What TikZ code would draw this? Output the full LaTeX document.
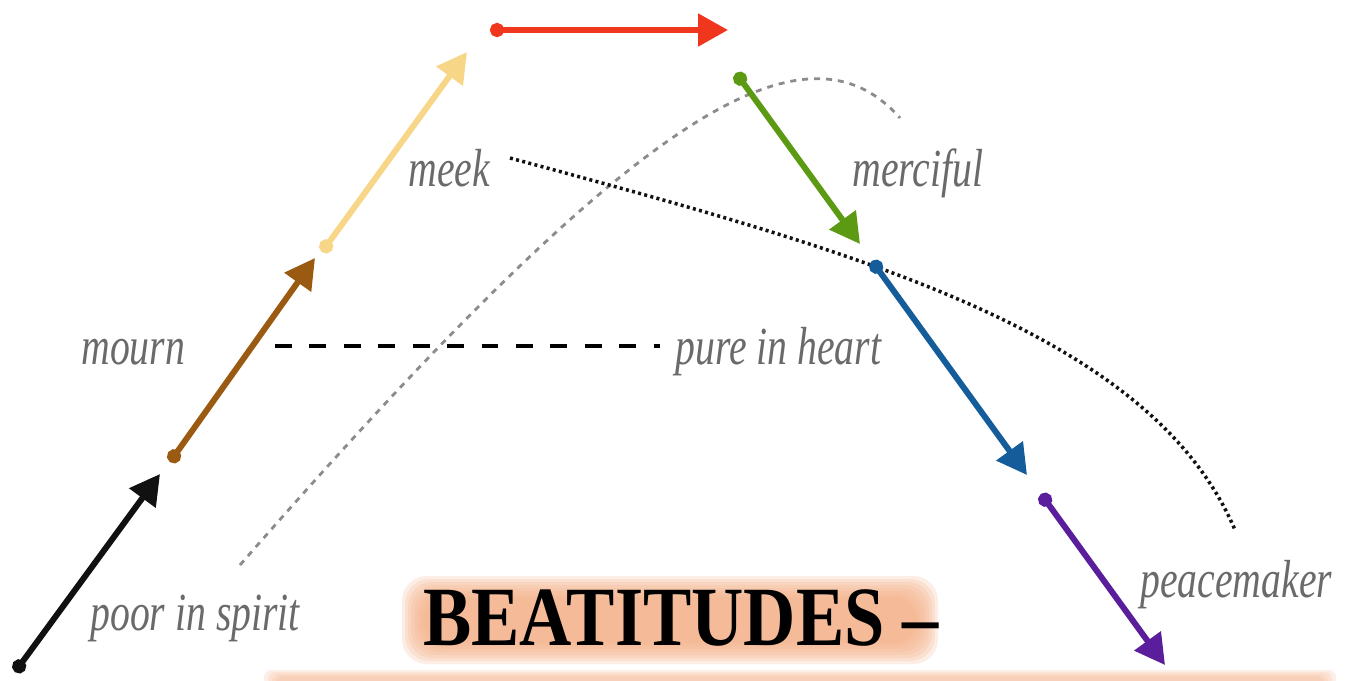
\documentclass[tikz,border=0pt]{standalone}
\usepackage{fontspec}
\newfontfamily\titlefont{Liberation Serif}
\newfontfamily\wordfont{Liberation Serif}
\usetikzlibrary{arrows.meta}

\definecolor{poorblack}{HTML}{111111}
\definecolor{mournbrown}{HTML}{9A5A12}
\definecolor{meekyellow}{HTML}{F8D688}
\definecolor{hungerred}{HTML}{F0361C}
\definecolor{mercygreen}{HTML}{5C9A14}
\definecolor{pureblue}{HTML}{145C9A}
\definecolor{peacepurple}{HTML}{5A1E9C}
\definecolor{labelgray}{HTML}{6A6A6A}
\definecolor{curvegray}{HTML}{8C8C8C}
\definecolor{glow}{HTML}{F3B088}

\begin{document}
\begin{tikzpicture}[
  x=0.02cm, y=-0.02cm,
  stage/.style   = {line width=3.4pt, line cap=round,
                    {Circle[length=8pt]}-{Triangle[length=17pt, width=18pt]}},
  word/.style    = {font=\wordfont\itshape\fontsize{22.6}{26}\selectfont, text=labelgray,
                    inner sep=0pt, anchor=base west, yscale=1.35},
  pureline/.style = {line width=1.8pt, dash pattern=on 9.6pt off 10pt},
  grayline/.style = {line width=1.6pt, curvegray, dash pattern=on 3.4pt off 3.4pt},
  dotline/.style  = {line width=2pt, poorblack, dash pattern=on 1.7pt off 1.9pt}
]
\useasboundingbox (0,0) rectangle (1345,680);

% ── Step points (start dot / arrow tip) ──────────────────────────────────────
\coordinate (p0) at (15,672);    \coordinate (p1) at (160,474);
\coordinate (m0) at (170,462);   \coordinate (m1) at (315,258);
\coordinate (k0) at (322,252);   \coordinate (k1) at (467,52);
\coordinate (h0) at (490,30);    \coordinate (h1) at (728,30);
\coordinate (c0) at (736,73);    \coordinate (c1) at (860,244);
\coordinate (u0) at (872,261);   \coordinate (u1) at (1027,475);
\coordinate (z0) at (1041,494);  \coordinate (z1) at (1165,665);

% ── Labels ───────────────────────────────────────────────────────────────────
\node[word] (mourn)    at (81,364)   {mourn};
\node[word] (meek)     at (408,186)  {meek};
\node[word] (merciful) at (852,186)  {merciful};
\node[word] (pure)     at (675,364)  {pure in heart};
\node[word] (poor)     at (90,630)   {poor in spirit};
\node[word] (peace)    at (1140,597) {peacemaker};

% ── Title with glow ──────────────────────────────────────────────────────────
\foreach \i in {0,...,7}
  \fill[glow, opacity=0.22, rounded corners=14pt]
    (402+3*\i,576+3*\i) rectangle (938-3*\i,664-3*\i);
\foreach \i in {0,...,3}
  \fill[glow, opacity=0.2, rounded corners=4pt]
    (264+4*\i,670+2*\i) rectangle (1336-4*\i,686);
\node[anchor=base west, inner sep=0pt, xscale=1.03, yscale=1.2,
      font=\titlefont\bfseries\fontsize{40}{40}\selectfont] (title)
  at (423,645) {BEATITUDES –};

% ── Background curves ────────────────────────────────────────────────────────
\coordinate (g0) at (240,565);  \coordinate (g1) at (900,118);
\draw[grayline] (g0) .. controls (620,130) and (800,5) .. (g1);

\coordinate (d0) at (510,158);  \coordinate (d1) at (1235,530);
\draw[dotline] (d0) .. controls (850,250) and (1150,330) .. (d1);

\coordinate (e0) at (275,346);  \coordinate (e1) at (660,346);
\draw[pureline] (e0) -- (e1);

% ── Steps up and down ────────────────────────────────────────────────────────
\draw[stage, poorblack]   (p0) -- (p1);
\draw[stage, mournbrown]  (m0) -- (m1);
\draw[stage, meekyellow]  (k0) -- (k1);
\draw[stage, hungerred]   (h0) -- (h1);
\draw[stage, mercygreen]  (c0) -- (c1);
\draw[stage, pureblue]    (u0) -- (u1);
\draw[stage, peacepurple] (z0) -- (z1);

\end{tikzpicture}
\end{document}
